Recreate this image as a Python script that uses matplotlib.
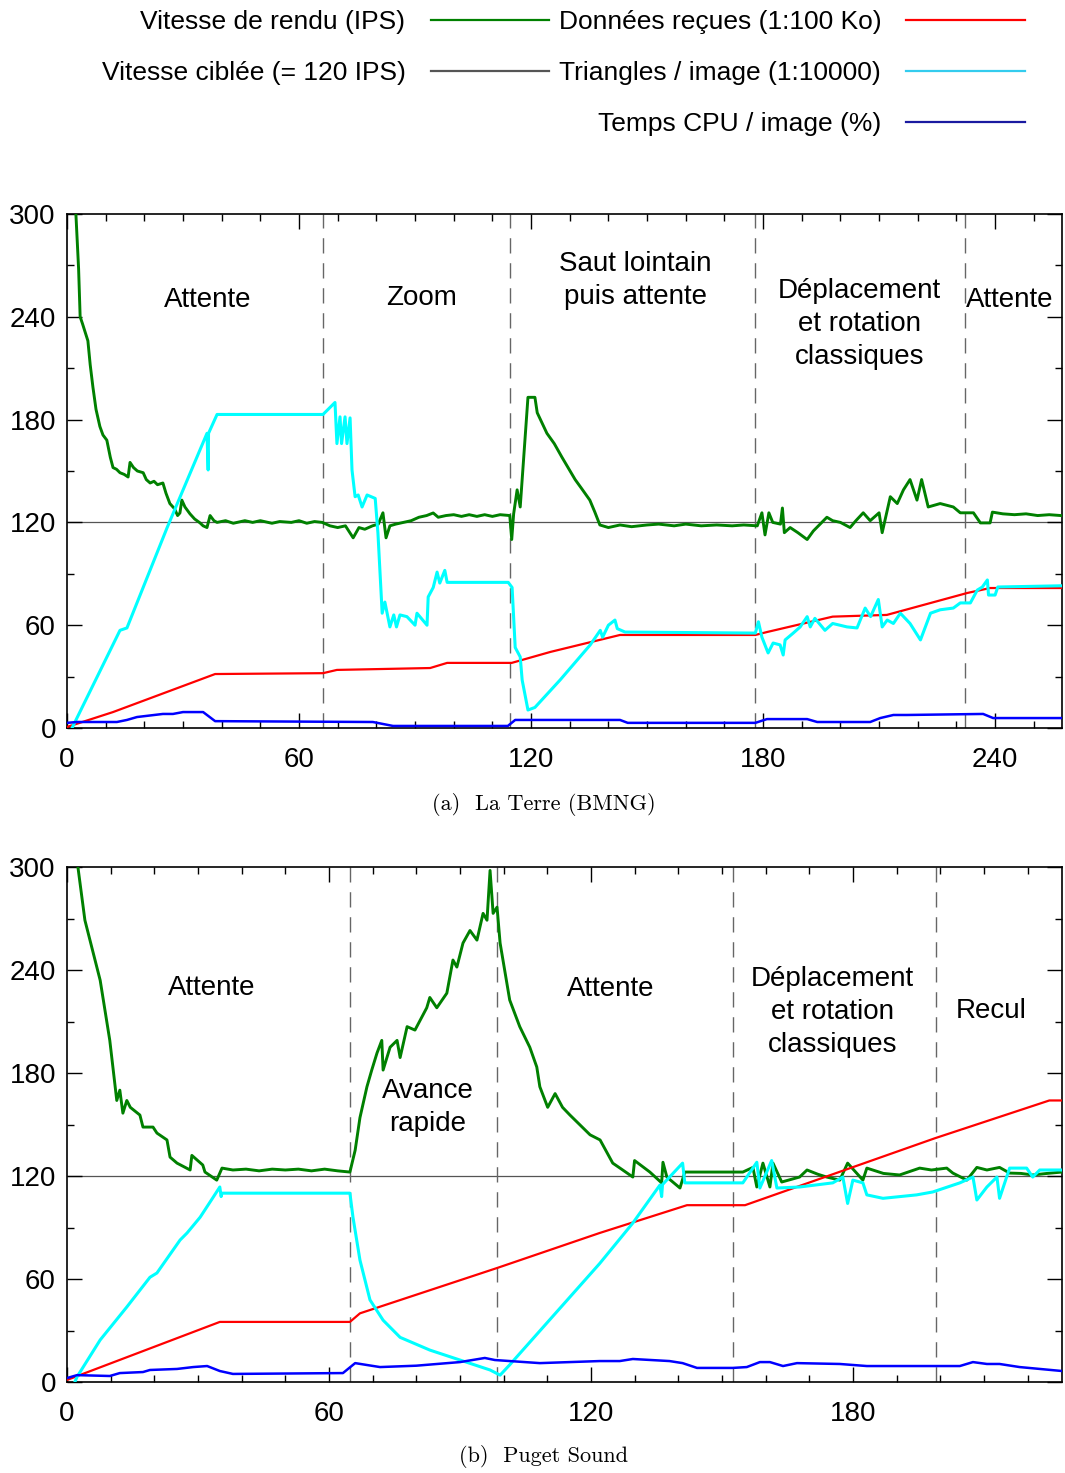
import matplotlib
matplotlib.use('Agg')
import matplotlib.pyplot as plt
from matplotlib.lines import Line2D
from matplotlib.ticker import MultipleLocator

plt.rcParams['font.family'] = ['Liberation Sans', 'DejaVu Sans']

# ---- (a) La Terre (BMNG) ----
a_fps_t = [2.3, 3.0, 3.4, 4.0, 4.7, 5.4, 6.0, 6.7, 7.5, 8.5, 9.3, 10.3, 11.2, 11.9, 12.8, 13.7,
           14.8, 15.8, 16.3, 17.2, 18.2, 19.7, 20.5, 21.5, 22.5, 23.4, 24.8, 25.6, 26.6, 27.8,
           28.6, 29.2, 29.7, 30.5, 31.8, 33.0, 34.4, 35.2, 36.2, 37.0, 38.0, 38.8, 41, 43, 46,
           48, 50, 53, 55, 58, 60, 62, 64, 66, 68, 70, 72, 74, 75.5, 77, 79, 80.5, 81.7, 82.5,
           83.5, 85, 87, 89, 91, 93, 94.7, 96, 98, 100, 102, 104, 106, 108, 110, 112, 114.5,
           115.0, 115.5, 116.4, 117.2, 119.2, 121.0, 121.6, 124.1, 126, 128, 131.4, 133, 135.2,
           136.5, 137.8, 140, 143, 146, 150, 153, 157, 160, 164, 168, 172, 175, 178.5, 179.7,
           180.5, 181.5, 182.5, 184.5, 185.0, 185.5, 187, 189, 191.4, 193, 196.5, 198, 200,
           202.5, 204, 205.9, 207.7, 210.0, 210.8, 212.9, 214.7, 216.3, 218.0, 219.8, 221.0,
           222.7, 225.8, 229.2, 231.0, 234.4, 236.2, 238.7, 239.3, 242, 245, 248, 251, 254, 257]
a_fps_v = [300, 268, 240, 236, 231, 226, 212, 199, 186, 176, 171, 168, 158, 152, 151, 149,
           148, 146.5, 155, 152, 150, 149, 145, 143, 144, 142, 143, 137, 131, 128,
           124, 125.5, 133, 129, 125, 122, 119.7, 118, 117, 124, 121, 120, 121, 119.5, 121,
           120, 121, 119.5, 120.5, 120, 121, 119.5, 120.5, 120, 118, 117, 118, 111, 117, 116,
           118, 119, 125.6, 111, 118, 119, 120, 121, 123, 124, 125.5, 123, 124, 124.5, 123.5,
           124.5, 123.5, 124.5, 123.5, 124.5, 124, 110, 125, 139, 129, 193, 193, 184, 172, 166,
           158, 145, 140, 133, 126, 118.5, 117, 118.5, 117.5, 118.5, 119, 118, 119, 118, 118.5,
           118, 118.5, 118, 125.6, 112.7, 125.6, 120, 119, 128.4, 114, 117, 114, 110, 115,
           123, 121, 120, 117, 121, 125.6, 121, 125.6, 114, 135, 131, 139, 145, 133, 145,
           129, 131, 129, 125.6, 125.6, 119.7, 119.7, 126, 125, 124.5, 125, 124, 124.5, 124]

a_tri_t = [1.3, 13.7, 15.5, 25.9, 36.2, 36.5, 36.6, 38.8, 66.2, 69.3, 69.8, 70.6, 71, 71.9, 72.4,
           73.2, 73.7, 74.5, 75.3, 76.3, 77.6, 79.7, 80.4, 81.5, 82.2, 83.5, 84.5, 85.2, 86.1,
           87.9, 90, 90.5, 93.1, 93.4, 94.7, 95.7, 96.4, 97.7, 98.3, 114.1, 115.1, 115.9, 117.2,
           117.7, 119.2, 121, 127.5, 135.3, 137.9, 138.5, 140, 141.7, 142.3, 144.3, 178, 178.8,
           179.7, 181.3, 182.6, 184.4, 185.2, 185.7, 187.8, 189.6, 191.4, 192.2, 193.4, 196, 198,
           201.7, 204.3, 206.4, 207.8, 209.8, 210.8, 212.1, 213.7, 215.5, 218, 220.7, 223.3,
           225.8, 229.2, 231, 233.6, 235.4, 236.7, 238, 238.3, 240, 240.7, 257]
a_tri_v = [0, 57, 58.4, 117, 172, 150.6, 172, 183, 183, 190, 166, 181.6, 166, 181.6, 166,
           181, 150.6, 135, 136, 129, 136, 134, 114, 67, 73.5, 59, 66, 59, 66,
           65, 60, 67, 60, 76.5, 82, 91, 84.6, 92, 85, 85, 82, 47, 41.5,
           28, 10.5, 12, 28, 48.5, 57, 53, 60, 63, 58, 56, 55.4, 62,
           53, 43.8, 49.6, 48.5, 42.6, 51.4, 55.4, 59, 65, 59, 64, 57, 61,
           59, 58.4, 70, 65, 75, 59, 63, 61, 67, 61, 51.4, 67,
           69, 70, 73, 73, 80.5, 82.3, 86.4, 77.6, 77.6, 82.3, 83]

a_data_t = [0, 11.9, 38.3, 66.2, 69.8, 93.9, 98.3, 115, 125, 143, 178, 181, 198, 212, 232.8, 238.7, 257]
a_data_v = [0.6, 9.3, 31.5, 32, 33.9, 35, 38, 38, 44.4, 54.3, 54.3, 56, 65, 66, 78.8, 81.7, 81.7]

a_cpu_t = [0, 2.6, 12.9, 15.5, 18.1, 24.8, 27.4, 30, 35.2, 38.3, 79.1, 84.3, 114, 115.9, 143, 145,
           178, 181, 191.4, 194, 207.7, 210.3, 213.7, 217.2, 236.9, 239.5, 257]
a_cpu_v = [3, 3.5, 3.5, 4.7, 6.4, 8.2, 8.2, 9.3, 9.3, 4, 3.5, 1.2, 1.2, 4.7, 4.7, 3,
           3, 5.2, 5.2, 3.5, 3.5, 5.8, 7.6, 7.6, 8.2, 5.8, 5.8]

a_phases = [66.2, 114.6, 178, 232.3]
a_labels = [('Attente', 36.5, 250), ('Zoom', 91.8, 251), ('Saut lointain\npuis attente', 146.9, 261),
            ('Déplacement\net rotation\nclassiques', 205, 236), ('Attente', 243.9, 250)]

# ---- (b) Puget Sound ----
b_fps_t = [2.5, 4.1, 7.6, 9.8, 11.4, 12.1, 12.8, 13.7, 14.5, 16.7, 17.4, 19.7, 20.6, 22.9, 23.6,
           25.2, 28.2, 28.6, 31.1, 31.6, 34.3, 35.5, 38, 41, 44, 47, 50, 53, 56, 59, 62, 64.8,
           66, 67.1, 68.7, 69.8, 71, 72.1, 72.4, 74, 75.6, 76.3, 77.9, 79.7, 82.4, 83.1, 84.7,
           87, 88.4, 89.3, 90.7, 92.3, 93.9, 95.3, 96.2, 96.9, 97.6, 98.5, 99.2, 101.4, 103.7,
           106, 107.6, 108.3, 110.1, 111.8, 113.5, 115.2, 119.8, 122.1, 125, 127, 129.6, 130,
           133.5, 136.2, 136.5, 137.4, 140.4, 141.5, 145, 148, 151, 154.8, 157.1, 158, 159.4,
           161, 161.7, 163.7, 167.8, 169.5, 172, 174, 177, 178.8, 182.3, 183.2, 187, 190.7,
           195.3, 198, 201.5, 202.9, 206.1, 208.4, 210.7, 213.6, 215.9, 218.5, 221.2, 224.5, 227.9]
b_fps_v = [300, 269, 234, 199, 164, 170, 156.6, 164, 160, 155.5, 148.5, 148.5, 145, 141, 131,
           127.5, 123.5, 132, 126.4, 122.3, 117.6, 124.6, 123.5, 124, 123, 124, 123.5, 124, 123, 124, 123, 122.3,
           135, 154, 172, 181.7, 191.6, 199, 181.7, 195, 199, 189, 207, 205, 218, 224, 218,
           226.5, 245.8, 241.7, 255.7, 263, 257.4, 273, 269, 298, 273, 276.6, 255.7, 222.5, 207,
           195, 183.5, 172, 160, 168, 160, 155.5, 144, 141, 127.5, 124, 119.4, 129,
           122.3, 116, 128, 119.4, 113, 122.3, 122.3, 122.3, 122.3, 122.3, 125, 113.6, 127.5,
           113.6, 127.5, 116.5, 119.4, 123.5, 121, 119.4, 117.6, 127.5, 117.6, 124.6, 121.5, 120.6,
           124.6, 123.5, 124.6, 121.7, 117.6, 125, 123.5, 125, 121.7, 121.5, 120.6, 121.5, 122.3]

b_tri_t = [1.8, 2.3, 7.6, 13.7, 19, 20.6, 25.9, 27.5, 30.5, 33.5, 35, 35.3, 35.5, 64.8, 65.5, 67.1,
           69.4, 72.4, 76.3, 83.1, 90, 96.9, 99.2, 101.4, 122, 129.6, 135.8, 136.2, 136.4, 141,
           141.5, 154.8, 158, 158.7, 161.4, 162.6, 167.8, 175.4, 177.7, 178.8, 180, 182.3, 183.2,
           186.9, 194.6, 198.3, 204.5, 207.5, 208.4, 210.7, 213, 213.6, 215.9, 219.8, 221.2,
           222.8, 228]
b_tri_v = [0, 3, 24.5, 43.7, 61, 63.5, 82.7, 86.8, 96, 107.7, 113.6, 108, 110, 110, 96, 71,
           47.8, 36, 26, 18.6, 12.8, 7, 4, 10, 69, 92.6, 114.7, 108, 115, 127.5,
           116, 116, 128, 113, 129, 113, 113.6, 116, 119.4, 104, 117.6, 116, 109,
           107, 109, 110.7, 116, 119.4, 106, 113.6, 119.4, 107, 124.6, 124.6, 119.4,
           123.5, 123.5]

b_data_t = [0, 35, 64.8, 67.1, 98.5, 122, 142, 155.3, 198.8, 225, 228]
b_data_v = [1.2, 35, 35, 40, 66.4, 86.8, 103, 103, 142, 164, 164]

b_cpu_t = [0, 2.3, 9.8, 12.1, 17.4, 19, 25.2, 28.9, 32.1, 35, 38, 63.2, 66, 68.7, 71.7, 80, 90,
           95.7, 98, 108.3, 122, 126.6, 129.6, 138, 141, 144.3, 152.5, 155.7, 158.7, 161, 164,
           167.2, 177, 183.2, 204.5, 207.5, 210.7, 213.6, 218.2, 227.9]
b_cpu_v = [2.3, 4, 3.5, 5.2, 5.8, 7, 7.6, 8.7, 9.3, 6.4, 4.7, 5.2, 11, 9.9, 8.7, 9.5, 11.6,
           14, 12.8, 11, 12.2, 12.2, 13.4, 12.2, 11, 8.2, 8.2, 8.7, 11.6, 11.6, 9.3,
           11, 10.5, 9.3, 9.3, 11.6, 10.5, 10.5, 8.7, 6.4]

b_phases = [64.8, 98.5, 152.5, 199]
b_labels = [('Attente', 33.2, 229.5), ('Avance\nrapide', 82.7, 160), ('Attente', 124.6, 229),
            ('Déplacement\net rotation\nclassiques', 175.4, 215.5), ('Recul', 211.6, 216)]

target = 120

c_fps, c_data, c_tri, c_cpu, c_target = 'green', '#ff0000', '#00ffff', '#0000ff', '#555555'

fig = plt.figure(figsize=(10.65, 14.73), dpi=100)
ax1 = fig.add_axes([67/1065, 1 - 728/1473, 995/1065, 514/1473])
ax2 = fig.add_axes([67/1065, 1 - 1382/1473, 995/1065, 515/1473])


def draw(ax, xmax, fps, data, tri, cpu, phases, labels):
    ax.axhline(target, color=c_target, lw=0.9, zorder=1)
    for p in phases:
        ax.axvline(p, color='#666666', lw=1.0, ls=(0, (11, 7)), zorder=1)
    ax.plot(*fps, color=c_fps, lw=2.1, zorder=3)
    ax.plot(*data, color=c_data, lw=1.6, zorder=3)
    ax.plot(*tri, color=c_tri, lw=2.2, zorder=4)
    ax.plot(*cpu, color=c_cpu, lw=1.8, zorder=4)
    for txt, x, y in labels:
        ax.text(x, y, txt, ha='center', va='center', fontsize=20, linespacing=1.35)
    ax.set_xlim(0, xmax)
    ax.set_ylim(0, 300)
    ax.xaxis.set_major_locator(MultipleLocator(60))
    ax.xaxis.set_minor_locator(MultipleLocator(10))
    ax.yaxis.set_major_locator(MultipleLocator(60))
    ax.yaxis.set_minor_locator(MultipleLocator(30))
    ax.tick_params(which='both', direction='in', top=True, right=True, width=1.0)
    ax.tick_params(which='major', length=11, labelsize=20)
    ax.tick_params(which='minor', length=5)
    ax.tick_params(axis='x', pad=14)
    ax.tick_params(axis='y', pad=8)
    for s in ax.spines.values():
        s.set_linewidth(1.2)


draw(ax1, 257.3, (a_fps_t, a_fps_v), (a_data_t, a_data_v), (a_tri_t, a_tri_v),
     (a_cpu_t, a_cpu_v), a_phases, a_labels)
draw(ax2, 227.9, (b_fps_t, b_fps_v), (b_data_t, b_data_v), (b_tri_t, b_tri_v),
     (b_cpu_t, b_cpu_v), b_phases, b_labels)

fig.text(544/1065, 1 - 804/1473, '(a)  La Terre (BMNG)', ha='center', va='center',
         fontsize=16, family='cmr10')
fig.text(544/1065, 1 - 1457/1473, '(b)  Puget Sound', ha='center', va='center',
         fontsize=16, family='cmr10')

handles = [Line2D([], [], color=c_fps, lw=1.6),
           Line2D([], [], color='#555555', lw=1.6),
           Line2D([], [], color='none'),
           Line2D([], [], color=c_data, lw=1.6),
           Line2D([], [], color='#33ccee', lw=1.6),
           Line2D([], [], color='#1a1aa0', lw=1.6)]
names = ['Vitesse de rendu (IPS)', 'Vitesse ciblée (= 120 IPS)', ' ',
         'Données reçues (1:100 Ko)', 'Triangles / image (1:10000)', 'Temps CPU / image (%)']
fig.legend(handles, names, ncol=2, markerfirst=False, frameon=False, fontsize=19,
           loc='upper right', bbox_to_anchor=(1025/1065, 1 - 10/1473),
           handlelength=4.5, handletextpad=0.95, columnspacing=0.35,
           labelspacing=1.02, borderpad=0, borderaxespad=0)

fig.savefig('out.png', dpi=100)
